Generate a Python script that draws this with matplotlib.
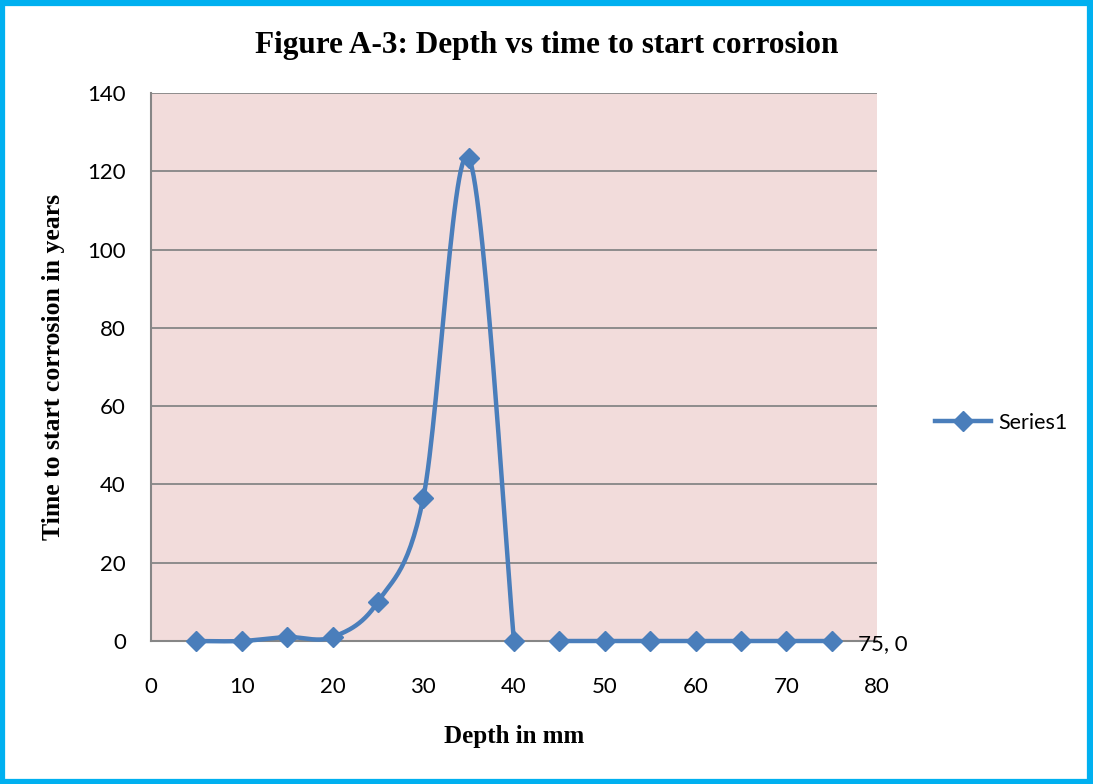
import numpy as np
import matplotlib
matplotlib.use("Agg")
import matplotlib.pyplot as plt
from matplotlib.patches import Rectangle
from matplotlib.lines import Line2D

depth = [5, 10, 15, 20, 25, 30, 35, 40, 45, 50, 55, 60, 65, 70, 75]
years = [0, 0, 1, 1, 10, 36.5, 123.5, 0, 0, 0, 0, 0, 0, 0, 0]
# the line is broken between these two depths in the reference
gap_after = 40
xticks = [0, 10, 20, 30, 40, 50, 60, 70, 80]
yticks = [0, 20, 40, 60, 80, 100, 120, 140]

title = "Figure A-3: Depth vs time to start corrosion"
xlabel = "Depth in mm"
ylabel = "Time to start corrosion in years"
series_name = "Series1"

blue = "#4A7EBB"
serif = ["Liberation Serif", "DejaVu Serif"]
sans = ["Lato", "DejaVu Sans"]


def catmull(xs, ys, n=30):
    xs = np.asarray(xs, float); ys = np.asarray(ys, float)
    px = np.concatenate([[xs[0]], xs, [xs[-1]]])
    py = np.concatenate([[ys[0]], ys, [ys[-1]]])
    ox, oy = [], []
    for i in range(1, len(px) - 2):
        p0, p1, p2, p3 = (np.array([px[j], py[j]]) for j in (i - 1, i, i + 1, i + 2))
        t = np.linspace(0, 1, n)[:, None]
        pts = 0.5 * ((2 * p1) + (-p0 + p2) * t + (2 * p0 - 5 * p1 + 4 * p2 - p3) * t ** 2
                     + (-p0 + 3 * p1 - 3 * p2 + p3) * t ** 3)
        ox.extend(pts[:, 0]); oy.extend(pts[:, 1])
    return np.array(ox), np.array(oy)


fig = plt.figure(figsize=(10.93, 7.84), dpi=100)
ax = fig.add_axes([151 / 1093, 1 - 641 / 784, (877 - 151) / 1093, (641 - 93) / 784])
ax.set_facecolor("#F2DCDB")

d = np.array(depth, float); y = np.array(years, float)
k = int(np.searchsorted(d, gap_after, side="right"))
for sx, sy in ((d[:k], y[:k]), (d[k:], y[k:])):
    cx, cy = catmull(sx, sy)
    ax.plot(cx, cy, color=blue, lw=3.2, solid_capstyle="round", zorder=3, clip_on=False)
ax.plot(d, y, linestyle="none", marker="D", ms=10, color=blue, zorder=4, clip_on=False)

ax.annotate(f"{depth[-1]}, {years[-1]:g}", (depth[-1], years[-1]), xytext=(19, -2),
            textcoords="offset points", va="center", ha="left",
            fontsize=16, family=sans, color="#000000")

ax.set_xlim(0, 80); ax.set_ylim(0, 140)
ax.set_xticks(xticks); ax.set_yticks(yticks)
ax.grid(axis="y", color="#868686", lw=1.3)
ax.set_axisbelow(True)
for s in ("top", "right"):
    ax.spines[s].set_visible(False)
for s in ("left", "bottom"):
    ax.spines[s].set_color("#868686"); ax.spines[s].set_linewidth(1.5)
ax.tick_params(length=0, labelsize=16)
for lab in ax.get_xticklabels() + ax.get_yticklabels():
    lab.set_family(sans)
ax.tick_params(axis="x", pad=26)
ax.tick_params(axis="y", pad=18)

ax.set_xlabel(xlabel, fontsize=18, family=serif, fontweight="bold", labelpad=20)
ax.set_ylabel(ylabel, fontsize=18.5, family=serif, fontweight="bold", labelpad=16)
fig.text(547 / 1093, 1 - 46 / 784, title, ha="center", va="center",
         fontsize=22.5, family=serif, fontweight="bold")

handle = Line2D([], [], color=blue, lw=3.2, marker="D", ms=10)
leg = fig.legend([handle], [series_name], loc="center left",
                 bbox_to_anchor=(916 / 1093, 1 - 423 / 784), frameon=False,
                 prop={"family": sans, "size": 15.5}, handlelength=2.6, handletextpad=0.3)

fig.patches.append(Rectangle((0.002, 0.003), 0.995, 0.993, transform=fig.transFigure,
                             fill=False, edgecolor="#00B0F0", lw=4.5))

fig.savefig("out.png", dpi=100)
